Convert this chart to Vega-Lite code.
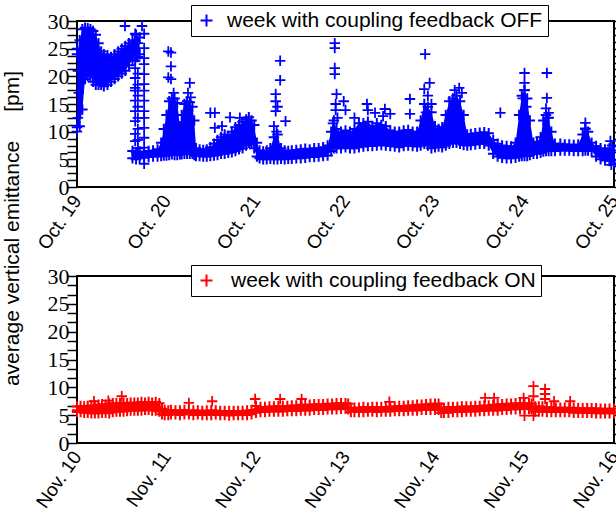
{
  "$schema": "https://vega.github.io/schema/vega-lite/v6.json",
  "padding": {"left": 0, "top": 3, "right": 2, "bottom": 2},
  "background": "white",
  "config": {
    "view": {"stroke": "#000", "strokeWidth": 2},
    "axis": {"domain": false, "grid": false, "labelColor": "#000", "labelFlush": false, "labelOverlap": false, "tickColor": "#000", "tickWidth": 1.5, "titleColor": "#000"},
    "axisX": {"ticks": false, "labelAngle": -55, "labelAlign": "right", "labelBaseline": "middle", "labelPadding": 10, "labelFont": "Liberation Sans", "labelFontSize": 19, "labelBound": false}
  },
  "datasets": {
    "offBand": [
      {"seg":"A","d":0.00,"lo":10.8,"hi":24.0},{"seg":"A","d":0.03,"lo":11.0,"hi":26.5},{"seg":"A","d":0.06,"lo":14.0,"hi":28.5},{"seg":"A","d":0.09,"lo":19.5,"hi":28.8},{"seg":"A","d":0.12,"lo":20.0,"hi":28.7},{"seg":"A","d":0.15,"lo":20.0,"hi":28.5},{"seg":"A","d":0.18,"lo":19.0,"hi":28.2},{"seg":"A","d":0.21,"lo":18.5,"hi":27.5},{"seg":"A","d":0.24,"lo":18.5,"hi":26.0},{"seg":"A","d":0.27,"lo":18.5,"hi":24.5},{"seg":"A","d":0.30,"lo":18.2,"hi":24.0},{"seg":"A","d":0.34,"lo":18.5,"hi":23.8},{"seg":"A","d":0.38,"lo":19.0,"hi":23.5},{"seg":"A","d":0.42,"lo":19.5,"hi":24.0},{"seg":"A","d":0.46,"lo":20.0,"hi":24.5},{"seg":"A","d":0.50,"lo":20.5,"hi":25.0},{"seg":"A","d":0.54,"lo":21.0,"hi":25.5},{"seg":"A","d":0.58,"lo":22.0,"hi":26.0},{"seg":"A","d":0.62,"lo":23.0,"hi":26.5},{"seg":"A","d":0.66,"lo":23.5,"hi":27.5},{"seg":"A","d":0.70,"lo":24.0,"hi":27.0},
      {"seg":"B","d":0.62,"lo":5.2,"hi":6.5},{"seg":"B","d":0.66,"lo":5.0,"hi":6.3},{"seg":"B","d":0.70,"lo":5.2,"hi":6.4},{"seg":"B","d":0.75,"lo":5.3,"hi":6.3},{"seg":"B","d":0.80,"lo":5.4,"hi":6.5},{"seg":"B","d":0.85,"lo":5.5,"hi":6.6},{"seg":"B","d":0.90,"lo":5.5,"hi":6.8},{"seg":"B","d":0.94,"lo":5.6,"hi":8.0},{"seg":"B","d":0.97,"lo":5.7,"hi":10.5},{"seg":"B","d":1.00,"lo":5.7,"hi":13.0},{"seg":"B","d":1.03,"lo":5.8,"hi":15.5},{"seg":"B","d":1.06,"lo":5.9,"hi":16.0},{"seg":"B","d":1.09,"lo":5.8,"hi":16.0},{"seg":"B","d":1.12,"lo":5.8,"hi":15.2},{"seg":"B","d":1.15,"lo":5.9,"hi":11.0},{"seg":"B","d":1.17,"lo":5.9,"hi":13.0},{"seg":"B","d":1.20,"lo":6.0,"hi":15.0},{"seg":"B","d":1.23,"lo":6.0,"hi":15.5},{"seg":"B","d":1.26,"lo":6.0,"hi":15.3},{"seg":"B","d":1.29,"lo":6.0,"hi":14.5},{"seg":"B","d":1.31,"lo":5.8,"hi":12.0},{"seg":"B","d":1.33,"lo":5.6,"hi":7.0},{"seg":"B","d":1.37,"lo":5.6,"hi":6.8},{"seg":"B","d":1.41,"lo":5.5,"hi":6.7},{"seg":"B","d":1.45,"lo":5.5,"hi":6.8},{"seg":"B","d":1.49,"lo":5.6,"hi":7.2},{"seg":"B","d":1.53,"lo":5.7,"hi":7.8},{"seg":"B","d":1.57,"lo":5.8,"hi":8.5},{"seg":"B","d":1.61,"lo":6.0,"hi":9.0},{"seg":"B","d":1.65,"lo":6.0,"hi":9.5},{"seg":"B","d":1.69,"lo":6.2,"hi":9.2},{"seg":"B","d":1.73,"lo":6.3,"hi":10.0},{"seg":"B","d":1.77,"lo":6.5,"hi":10.8},{"seg":"B","d":1.81,"lo":6.8,"hi":11.2},{"seg":"B","d":1.85,"lo":7.0,"hi":11.8},{"seg":"B","d":1.89,"lo":7.5,"hi":12.2},{"seg":"B","d":1.92,"lo":8.0,"hi":12.6},{"seg":"B","d":1.95,"lo":7.8,"hi":12.0},{"seg":"B","d":1.98,"lo":7.0,"hi":11.2},{"seg":"B","d":2.01,"lo":5.5,"hi":8.0},{"seg":"B","d":2.04,"lo":5.2,"hi":6.6},{"seg":"B","d":2.08,"lo":5.0,"hi":6.4},{"seg":"B","d":2.12,"lo":5.0,"hi":6.6},{"seg":"B","d":2.16,"lo":5.1,"hi":7.0},{"seg":"B","d":2.20,"lo":5.0,"hi":9.0},{"seg":"B","d":2.24,"lo":5.0,"hi":9.5},{"seg":"B","d":2.28,"lo":5.1,"hi":7.0},{"seg":"B","d":2.32,"lo":5.0,"hi":6.6},{"seg":"B","d":2.36,"lo":5.1,"hi":6.5},{"seg":"B","d":2.40,"lo":5.1,"hi":6.6},{"seg":"B","d":2.45,"lo":5.2,"hi":6.7},{"seg":"B","d":2.50,"lo":5.2,"hi":6.8},{"seg":"B","d":2.55,"lo":5.3,"hi":6.9},{"seg":"B","d":2.60,"lo":5.4,"hi":6.8},{"seg":"B","d":2.65,"lo":5.4,"hi":7.0},{"seg":"B","d":2.70,"lo":5.5,"hi":7.0},{"seg":"B","d":2.75,"lo":5.6,"hi":7.2},{"seg":"B","d":2.80,"lo":5.7,"hi":7.5},{"seg":"B","d":2.84,"lo":6.5,"hi":10.0},{"seg":"B","d":2.87,"lo":7.0,"hi":12.0},{"seg":"B","d":2.90,"lo":7.0,"hi":10.5},{"seg":"B","d":2.95,"lo":7.0,"hi":10.0},{"seg":"B","d":3.00,"lo":7.2,"hi":10.2},{"seg":"B","d":3.05,"lo":7.0,"hi":10.0},{"seg":"B","d":3.10,"lo":7.0,"hi":10.5},{"seg":"B","d":3.15,"lo":7.2,"hi":11.5},{"seg":"B","d":3.20,"lo":7.3,"hi":11.5},{"seg":"B","d":3.25,"lo":7.4,"hi":11.8},{"seg":"B","d":3.30,"lo":7.4,"hi":11.0},{"seg":"B","d":3.35,"lo":7.5,"hi":11.5},{"seg":"B","d":3.40,"lo":7.6,"hi":11.2},{"seg":"B","d":3.45,"lo":7.5,"hi":11.0},{"seg":"B","d":3.50,"lo":7.4,"hi":10.2},{"seg":"B","d":3.55,"lo":7.3,"hi":10.0},{"seg":"B","d":3.60,"lo":7.2,"hi":10.0},{"seg":"B","d":3.65,"lo":7.4,"hi":10.2},{"seg":"B","d":3.70,"lo":7.5,"hi":10.3},{"seg":"B","d":3.75,"lo":7.4,"hi":10.0},{"seg":"B","d":3.80,"lo":7.3,"hi":10.0},{"seg":"B","d":3.84,"lo":7.5,"hi":12.0},{"seg":"B","d":3.88,"lo":7.8,"hi":15.0},{"seg":"B","d":3.92,"lo":7.5,"hi":14.5},{"seg":"B","d":3.96,"lo":7.0,"hi":13.5},{"seg":"B","d":4.00,"lo":7.2,"hi":11.0},{"seg":"B","d":4.04,"lo":7.3,"hi":10.5},{"seg":"B","d":4.08,"lo":7.2,"hi":10.8},{"seg":"B","d":4.12,"lo":7.5,"hi":13.0},{"seg":"B","d":4.16,"lo":7.8,"hi":15.5},{"seg":"B","d":4.20,"lo":8.0,"hi":16.0},{"seg":"B","d":4.24,"lo":8.0,"hi":16.5},{"seg":"B","d":4.28,"lo":7.8,"hi":15.5},{"seg":"B","d":4.32,"lo":7.6,"hi":13.0},{"seg":"B","d":4.36,"lo":7.5,"hi":9.5},{"seg":"B","d":4.40,"lo":7.6,"hi":9.6},{"seg":"B","d":4.45,"lo":7.7,"hi":9.7},{"seg":"B","d":4.50,"lo":7.8,"hi":9.8},{"seg":"B","d":4.55,"lo":7.8,"hi":9.9},{"seg":"B","d":4.60,"lo":7.5,"hi":9.7},{"seg":"B","d":4.65,"lo":6.0,"hi":8.5},{"seg":"B","d":4.70,"lo":5.5,"hi":7.8},{"seg":"B","d":4.75,"lo":5.3,"hi":7.5},{"seg":"B","d":4.80,"lo":5.2,"hi":7.4},{"seg":"B","d":4.85,"lo":5.2,"hi":7.3},{"seg":"B","d":4.90,"lo":5.3,"hi":8.0},{"seg":"B","d":4.94,"lo":5.5,"hi":13.0},{"seg":"B","d":4.97,"lo":5.6,"hi":16.5},{"seg":"B","d":5.00,"lo":5.6,"hi":17.5},{"seg":"B","d":5.03,"lo":5.6,"hi":16.0},{"seg":"B","d":5.06,"lo":5.8,"hi":12.0},{"seg":"B","d":5.10,"lo":6.0,"hi":8.0},{"seg":"B","d":5.14,"lo":6.0,"hi":8.2},{"seg":"B","d":5.18,"lo":6.2,"hi":9.0},{"seg":"B","d":5.21,"lo":6.4,"hi":12.0},{"seg":"B","d":5.24,"lo":6.5,"hi":13.0},{"seg":"B","d":5.27,"lo":6.5,"hi":12.5},{"seg":"B","d":5.30,"lo":6.5,"hi":10.0},{"seg":"B","d":5.34,"lo":6.5,"hi":7.8},{"seg":"B","d":5.40,"lo":6.6,"hi":7.8},{"seg":"B","d":5.45,"lo":6.6,"hi":7.7},{"seg":"B","d":5.50,"lo":6.6,"hi":7.7},{"seg":"B","d":5.55,"lo":6.5,"hi":7.6},{"seg":"B","d":5.60,"lo":6.5,"hi":7.7},{"seg":"B","d":5.65,"lo":6.5,"hi":9.5},{"seg":"B","d":5.68,"lo":6.6,"hi":10.5},{"seg":"B","d":5.71,"lo":6.6,"hi":10.0},{"seg":"B","d":5.75,"lo":6.5,"hi":8.0},{"seg":"B","d":5.80,"lo":5.5,"hi":7.4},{"seg":"B","d":5.85,"lo":5.0,"hi":7.0},{"seg":"B","d":5.90,"lo":4.8,"hi":6.8},{"seg":"B","d":5.95,"lo":4.7,"hi":7.0},{"seg":"B","d":6.00,"lo":4.8,"hi":6.6}
    ],
    "offPts": [
      {"d":0.0,"v":25.0},{"d":0.0,"v":10.0},{"d":0.01,"v":12.5},{"d":0.02,"v":17.0},{"d":0.01,"v":21.0},
      {"d":0.536,"v":29.1},{"d":0.726,"v":29.1},
      {"d":0.65,"v":27.7},{"d":0.65,"v":26.4},{"d":0.65,"v":24.6},{"d":0.65,"v":22.8},{"d":0.65,"v":21.5},{"d":0.65,"v":19.7},{"d":0.65,"v":17.9},{"d":0.65,"v":17.4},{"d":0.65,"v":15.6},{"d":0.65,"v":13.7},{"d":0.65,"v":11.9},{"d":0.65,"v":9.6},{"d":0.65,"v":8.3},
      {"d":0.68,"v":26.0},{"d":0.68,"v":23.5},{"d":0.68,"v":20.5},{"d":0.68,"v":18.5},{"d":0.68,"v":16.5},{"d":0.68,"v":14.5},{"d":0.68,"v":12.5},{"d":0.68,"v":10.5},{"d":0.68,"v":8.5},{"d":0.68,"v":7.0},
      {"d":0.75,"v":27.7},{"d":0.75,"v":25.1},{"d":0.75,"v":23.3},{"d":0.75,"v":22.2},{"d":0.75,"v":20.4},{"d":0.75,"v":18.6},{"d":0.75,"v":17.4},{"d":0.75,"v":15.6},{"d":0.75,"v":13.7},{"d":0.75,"v":12.5},{"d":0.75,"v":10.7},{"d":0.75,"v":8.9},{"d":0.75,"v":7.1},{"d":0.75,"v":4.2},
      {"d":1.02,"v":24.5},{"d":1.05,"v":24.3},{"d":1.05,"v":21.8},{"d":1.02,"v":19.8},{"d":1.05,"v":19.5},{"d":1.08,"v":17.0},
      {"d":1.26,"v":18.8},{"d":1.24,"v":17.0},{"d":1.27,"v":16.2},
      {"d":1.49,"v":13.4},{"d":1.54,"v":13.4},{"d":1.54,"v":10.7},
      {"d":1.71,"v":12.6},{"d":1.82,"v":12.5},{"d":1.62,"v":11.0},
      {"d":2.27,"v":22.8},{"d":2.27,"v":19.3},{"d":2.22,"v":16.8},{"d":2.22,"v":15.5},{"d":2.24,"v":14.5},{"d":2.22,"v":13.7},{"d":2.33,"v":11.9},{"d":2.20,"v":11.0},{"d":2.23,"v":10.0},
      {"d":2.88,"v":26.0},{"d":2.88,"v":25.1},{"d":2.88,"v":21.5},{"d":2.88,"v":20.4},{"d":2.90,"v":16.8},{"d":2.89,"v":15.0},{"d":2.89,"v":13.9},{"d":2.91,"v":12.5},{"d":2.86,"v":11.5},
      {"d":2.98,"v":15.5},{"d":3.0,"v":13.9},{"d":3.10,"v":12.5},
      {"d":3.24,"v":15.0},{"d":3.25,"v":13.9},{"d":3.33,"v":13.4},{"d":3.44,"v":14.1},{"d":3.42,"v":12.8},{"d":3.50,"v":13.2},
      {"d":3.72,"v":15.9},{"d":3.72,"v":13.2},
      {"d":3.89,"v":24.0},{"d":3.94,"v":18.8},{"d":3.88,"v":17.7},{"d":3.92,"v":16.5},{"d":3.96,"v":15.0},{"d":3.90,"v":13.5},
      {"d":4.22,"v":17.5},{"d":4.27,"v":17.9},{"d":4.30,"v":17.0},
      {"d":4.73,"v":13.4},
      {"d":5.0,"v":20.6},{"d":5.0,"v":18.8},{"d":5.0,"v":17.5},{"d":4.98,"v":16.0},{"d":5.02,"v":14.5},
      {"d":5.25,"v":20.6},{"d":5.25,"v":16.1},{"d":5.27,"v":13.4},{"d":5.26,"v":12.5},{"d":5.24,"v":14.2},
      {"d":5.68,"v":11.6},{"d":5.68,"v":10.6},
      {"d":5.96,"v":8.3},{"d":5.98,"v":7.5},{"d":5.97,"v":4.0},{"d":6.0,"v":4.3}
    ],
    "onBand": [
      {"d":0.00,"lo":5.55,"hi":6.55},{"d":0.04,"lo":5.55,"hi":6.65},{"d":0.08,"lo":5.45,"hi":6.55},{"d":0.12,"lo":5.45,"hi":6.65},{"d":0.16,"lo":5.35,"hi":6.75},{"d":0.20,"lo":5.35,"hi":6.75},{"d":0.24,"lo":5.35,"hi":6.85},{"d":0.28,"lo":5.45,"hi":6.95},{"d":0.32,"lo":5.45,"hi":6.85},{"d":0.36,"lo":5.35,"hi":7.05},{"d":0.40,"lo":5.55,"hi":7.15},{"d":0.44,"lo":5.65,"hi":7.15},{"d":0.48,"lo":5.65,"hi":7.15},{"d":0.52,"lo":5.65,"hi":7.25},{"d":0.56,"lo":5.75,"hi":7.15},{"d":0.60,"lo":5.85,"hi":7.25},{"d":0.64,"lo":5.85,"hi":7.25},{"d":0.68,"lo":5.85,"hi":7.25},{"d":0.72,"lo":5.85,"hi":7.35},{"d":0.76,"lo":5.95,"hi":7.25},{"d":0.80,"lo":5.95,"hi":7.35},{"d":0.84,"lo":5.85,"hi":7.25},{"d":0.88,"lo":5.85,"hi":7.35},{"d":0.92,"lo":5.65,"hi":7.15},{"d":0.95,"lo":5.15,"hi":6.15},{"d":0.98,"lo":5.05,"hi":5.95},{"d":1.02,"lo":5.05,"hi":5.85},
      {"d":1.05,"lo":5.15,"hi":5.95},{"d":1.10,"lo":5.15,"hi":5.85},{"d":1.15,"lo":5.05,"hi":5.85},{"d":1.20,"lo":5.15,"hi":5.95},{"d":1.25,"lo":5.15,"hi":5.85},{"d":1.30,"lo":5.05,"hi":5.85},{"d":1.35,"lo":5.15,"hi":5.85},{"d":1.40,"lo":5.05,"hi":5.75},{"d":1.45,"lo":5.05,"hi":5.85},{"d":1.50,"lo":5.05,"hi":5.85},{"d":1.55,"lo":5.15,"hi":5.85},{"d":1.60,"lo":5.05,"hi":5.75},{"d":1.65,"lo":5.05,"hi":5.75},{"d":1.70,"lo":4.95,"hi":5.75},{"d":1.75,"lo":5.05,"hi":5.75},{"d":1.80,"lo":5.05,"hi":5.75},{"d":1.85,"lo":5.05,"hi":5.75},{"d":1.90,"lo":5.05,"hi":5.85},{"d":1.95,"lo":5.15,"hi":5.95},
      {"d":2.00,"lo":5.45,"hi":6.65},{"d":2.05,"lo":5.55,"hi":6.45},{"d":2.10,"lo":5.55,"hi":6.45},{"d":2.15,"lo":5.65,"hi":6.55},{"d":2.20,"lo":5.65,"hi":6.55},{"d":2.25,"lo":5.65,"hi":6.65},{"d":2.30,"lo":5.65,"hi":6.65},{"d":2.35,"lo":5.75,"hi":6.65},{"d":2.40,"lo":5.75,"hi":6.75},{"d":2.45,"lo":5.75,"hi":6.75},{"d":2.50,"lo":5.85,"hi":6.85},{"d":2.55,"lo":5.85,"hi":6.85},{"d":2.60,"lo":5.85,"hi":6.85},{"d":2.65,"lo":5.95,"hi":6.95},{"d":2.70,"lo":5.95,"hi":6.95},{"d":2.75,"lo":5.95,"hi":6.95},{"d":2.80,"lo":6.05,"hi":7.05},{"d":2.85,"lo":6.05,"hi":7.05},{"d":2.90,"lo":6.05,"hi":7.15},{"d":2.95,"lo":6.15,"hi":7.15},{"d":3.00,"lo":6.15,"hi":7.15},{"d":3.03,"lo":6.05,"hi":7.05},
      {"d":3.06,"lo":5.55,"hi":6.35},{"d":3.10,"lo":5.55,"hi":6.35},{"d":3.15,"lo":5.55,"hi":6.35},{"d":3.20,"lo":5.55,"hi":6.45},{"d":3.25,"lo":5.65,"hi":6.35},{"d":3.30,"lo":5.65,"hi":6.45},{"d":3.35,"lo":5.55,"hi":6.45},{"d":3.40,"lo":5.65,"hi":6.45},{"d":3.45,"lo":5.65,"hi":6.45},{"d":3.50,"lo":5.65,"hi":6.55},{"d":3.55,"lo":5.75,"hi":6.55},{"d":3.60,"lo":5.75,"hi":6.65},{"d":3.65,"lo":5.75,"hi":6.65},{"d":3.70,"lo":5.85,"hi":6.75},{"d":3.75,"lo":5.85,"hi":6.75},{"d":3.80,"lo":5.85,"hi":6.85},{"d":3.85,"lo":5.95,"hi":6.85},{"d":3.90,"lo":5.95,"hi":6.95},{"d":3.95,"lo":5.95,"hi":7.05},{"d":4.00,"lo":5.95,"hi":7.05},{"d":4.04,"lo":5.95,"hi":7.05},
      {"d":4.07,"lo":5.45,"hi":6.35},{"d":4.10,"lo":5.45,"hi":6.35},{"d":4.15,"lo":5.45,"hi":6.45},{"d":4.20,"lo":5.55,"hi":6.45},{"d":4.25,"lo":5.55,"hi":6.45},{"d":4.30,"lo":5.55,"hi":6.55},{"d":4.35,"lo":5.65,"hi":6.55},{"d":4.40,"lo":5.65,"hi":6.55},{"d":4.45,"lo":5.65,"hi":6.65},{"d":4.50,"lo":5.75,"hi":6.65},{"d":4.55,"lo":5.75,"hi":6.75},{"d":4.60,"lo":5.85,"hi":6.75},{"d":4.65,"lo":5.85,"hi":6.85},{"d":4.70,"lo":5.85,"hi":6.95},{"d":4.75,"lo":5.95,"hi":6.95},{"d":4.80,"lo":5.95,"hi":7.05},{"d":4.85,"lo":6.05,"hi":7.05},{"d":4.90,"lo":6.05,"hi":7.15},{"d":4.95,"lo":6.05,"hi":7.15},{"d":5.00,"lo":6.15,"hi":7.15},{"d":5.05,"lo":6.15,"hi":7.15},{"d":5.08,"lo":6.05,"hi":7.05},
      {"d":5.12,"lo":5.65,"hi":6.55},{"d":5.16,"lo":5.65,"hi":6.55},{"d":5.20,"lo":5.65,"hi":6.55},{"d":5.25,"lo":5.55,"hi":6.45},{"d":5.30,"lo":5.55,"hi":6.45},{"d":5.35,"lo":5.55,"hi":6.35},{"d":5.40,"lo":5.55,"hi":6.35},{"d":5.45,"lo":5.55,"hi":6.35},{"d":5.50,"lo":5.55,"hi":6.35},{"d":5.55,"lo":5.45,"hi":6.35},{"d":5.60,"lo":5.45,"hi":6.25},{"d":5.65,"lo":5.45,"hi":6.25},{"d":5.70,"lo":5.45,"hi":6.25},{"d":5.75,"lo":5.45,"hi":6.25},{"d":5.80,"lo":5.35,"hi":6.25},{"d":5.85,"lo":5.35,"hi":6.15},{"d":5.90,"lo":5.35,"hi":6.15},{"d":5.95,"lo":5.35,"hi":6.15},{"d":6.00,"lo":5.35,"hi":6.15}
    ],
    "onPts": [
      {"d":0.0,"v":5.9},{"d":0.19,"v":7.5},{"d":0.35,"v":7.6},{"d":0.50,"v":8.4},{"d":1.25,"v":7.2},{"d":1.51,"v":7.5},{"d":1.99,"v":7.9},{"d":2.27,"v":7.9},{"d":2.51,"v":7.9},{"d":3.49,"v":7.4},{"d":4.56,"v":8.1},{"d":4.66,"v":8.1},{"d":4.99,"v":8.1},{"d":5.10,"v":10.2},{"d":5.10,"v":8.4},{"d":5.23,"v":9.7},{"d":5.23,"v":8.8},{"d":5.23,"v":7.9},{"d":5.33,"v":7.5},{"d":5.51,"v":7.5},{"d":5.0,"v":4.9},{"d":5.1,"v":4.9},{"d":6.0,"v":5.7}
    ]
  },
  "spacing": 89,
  "bounds": "flush",
  "resolve": {"scale": {"color": "independent"}, "legend": {"color": "independent"}},
  "vconcat": [
    {
      "width": 537,
      "height": 166,
      "resolve": {"axis": {"y": "independent"}},
      "layer": [
        {
          "data": {"name": "offBand"},
          "mark": {"type": "area", "color": "#0000ff", "opacity": 1},
          "encoding": {
            "x": {"field": "d", "type": "quantitative", "scale": {"domain": [0, 6], "nice": false, "zero": false}, "axis": {"values": [0,1,2,3,4,5,6], "labelExpr": "'Oct. ' + (19 + datum.value)", "title": null}},
            "y": {"field": "lo", "type": "quantitative", "scale": {"domain": [0, 30], "nice": false},
              "axis": {"orient": "left", "values": [0,1.25,2.5,3.75,5,6.25,7.5,8.75,10,11.25,12.5,13.75,15,16.25,17.5,18.75,20,21.25,22.5,23.75,25,26.25,27.5,28.75,30],
                "labelExpr": "datum.value % 5 === 0 ? datum.label : ''",
                "labelFont": "Liberation Serif", "labelFontSize": 22, "labelColor": "#000",
                "ticks": true, "tickSize": 10, "labelPadding": -2, "tickColor": "#000", "tickWidth": 1.5,
                "encode": {"ticks": {"update": {"x2": {"signal": "datum.value % 5 === 0 ? 10 : 5"}}}},
                "title": "average vertical emittance\u00a0\u00a0\u00a0\u00a0\u00a0[pm]", "titleFont": "Liberation Sans", "titleFontSize": 21, "titleFontWeight": "normal", "titleX": -55, "titleY": 207}},
            "y2": {"field": "hi"},
            "detail": {"field": "seg"}
          }
        },
        {
          "data": {"name": "offBand"},
          "mark": {"type": "point", "shape": "M-1,0L1,0M0,-1L0,1", "filled": false, "size": 110, "strokeWidth": 2, "color": "#0000ff", "opacity": 1},
          "encoding": {
            "x": {"field": "d", "type": "quantitative", "axis": {"values": [0,1,2,3,4,5,6], "labelExpr": "'Oct. ' + (19 + datum.value)", "title": null}},
            "y": {"field": "lo", "type": "quantitative", "axis": null}
          }
        },
        {
          "data": {"name": "offBand"},
          "mark": {"type": "point", "shape": "M-1,0L1,0M0,-1L0,1", "filled": false, "size": 110, "strokeWidth": 2, "color": "#0000ff", "opacity": 1},
          "encoding": {
            "x": {"field": "d", "type": "quantitative", "axis": {"values": [0,1,2,3,4,5,6], "labelExpr": "'Oct. ' + (19 + datum.value)", "title": null}},
            "y": {"field": "hi", "type": "quantitative", "axis": null}
          }
        },
        {
          "data": {"name": "offPts"},
          "mark": {"type": "point", "shape": "M-1,0L1,0M0,-1L0,1", "filled": false, "size": 110, "strokeWidth": 1.8, "opacity": 1},
          "encoding": {
            "x": {"field": "d", "type": "quantitative", "axis": {"values": [0,1,2,3,4,5,6], "labelExpr": "'Oct. ' + (19 + datum.value)", "title": null}},
            "y": {"field": "v", "type": "quantitative",
              "axis": {"orient": "right", "values": [0,1.25,2.5,3.75,5,6.25,7.5,8.75,10,11.25,12.5,13.75,15,16.25,17.5,18.75,20,21.25,22.5,23.75,25,26.25,27.5,28.75,30],
                "labels": false, "title": null, "ticks": true, "tickSize": 10, "tickColor": "#000", "tickWidth": 1.5,
                "encode": {"ticks": {"update": {"x2": {"signal": "datum.value % 5 === 0 ? -10 : -5"}}}}}},
            "color": {"datum": "week with coupling feedback OFF", "scale": {"range": ["#0000ff"]},
              "legend": {"orient": "none", "legendX": 114, "legendY": -16, "title": null, "padding": 5, "labelFont": "Liberation Sans", "labelFontSize": 21, "labelColor": "#000", "labelOffset": 10, "labelLimit": 500, "symbolType": "M-1,0L1,0M0,-1L0,1", "symbolSize": 144, "symbolStrokeWidth": 2, "symbolFillColor": "transparent", "symbolStrokeColor": "#0000ff", "fillColor": "#ffffff", "strokeColor": "#000000",
                "encode": {"legend": {"update": {"strokeWidth": {"value": 1.5}}}}}}
          }
        }
      ]
    },
    {
      "width": 537,
      "height": 167,
      "resolve": {"axis": {"y": "independent"}},
      "layer": [
        {
          "data": {"name": "onBand"},
          "mark": {"type": "area", "color": "#ff0000", "opacity": 1},
          "encoding": {
            "x": {"field": "d", "type": "quantitative", "scale": {"domain": [0, 6], "nice": false, "zero": false}, "axis": {"values": [0,1,2,3,4,5,6], "labelExpr": "'Nov. ' + (10 + datum.value)", "title": null}},
            "y": {"field": "lo", "type": "quantitative", "scale": {"domain": [0, 30], "nice": false},
              "axis": {"orient": "left", "values": [0,1.6667,3.3333,5,6.6667,8.3333,10,11.6667,13.3333,15,16.6667,18.3333,20,21.6667,23.3333,25,26.6667,28.3333,30],
                "labelExpr": "datum.value % 5 === 0 ? datum.label : ''",
                "labelFont": "Liberation Serif", "labelFontSize": 22, "labelColor": "#000",
                "ticks": true, "tickSize": 10, "labelPadding": -2, "tickColor": "#000", "tickWidth": 1.5,
                "encode": {"ticks": {"update": {"x2": {"signal": "datum.value % 5 === 0 ? 10 : 5"}}}},
                "title": null}},
            "y2": {"field": "hi"}
          }
        },
        {
          "data": {"name": "onBand"},
          "mark": {"type": "point", "shape": "M-1,0L1,0M0,-1L0,1", "filled": false, "size": 110, "strokeWidth": 2, "color": "#ff0000", "opacity": 1},
          "encoding": {
            "x": {"field": "d", "type": "quantitative", "axis": {"values": [0,1,2,3,4,5,6], "labelExpr": "'Nov. ' + (10 + datum.value)", "title": null}},
            "y": {"field": "lo", "type": "quantitative", "axis": null}
          }
        },
        {
          "data": {"name": "onBand"},
          "mark": {"type": "point", "shape": "M-1,0L1,0M0,-1L0,1", "filled": false, "size": 110, "strokeWidth": 2, "color": "#ff0000", "opacity": 1},
          "encoding": {
            "x": {"field": "d", "type": "quantitative", "axis": {"values": [0,1,2,3,4,5,6], "labelExpr": "'Nov. ' + (10 + datum.value)", "title": null}},
            "y": {"field": "hi", "type": "quantitative", "axis": null}
          }
        },
        {
          "data": {"name": "onPts"},
          "mark": {"type": "point", "shape": "M-1,0L1,0M0,-1L0,1", "filled": false, "size": 110, "strokeWidth": 1.8, "opacity": 1},
          "encoding": {
            "x": {"field": "d", "type": "quantitative", "axis": {"values": [0,1,2,3,4,5,6], "labelExpr": "'Nov. ' + (10 + datum.value)", "title": null}},
            "y": {"field": "v", "type": "quantitative",
              "axis": {"orient": "right", "values": [0,1.6667,3.3333,5,6.6667,8.3333,10,11.6667,13.3333,15,16.6667,18.3333,20,21.6667,23.3333,25,26.6667,28.3333,30],
                "labels": false, "title": null, "ticks": true, "tickSize": 10, "tickColor": "#000", "tickWidth": 1.5,
                "encode": {"ticks": {"update": {"x2": {"signal": "datum.value % 5 === 0 ? -10 : -5"}}}}}},
            "color": {"datum": "week with coupling feedback ON", "scale": {"range": ["#ff0000"]},
              "legend": {"orient": "none", "legendX": 114, "legendY": -11, "title": null, "padding": 5, "labelFont": "Liberation Sans", "labelFontSize": 21, "labelColor": "#000", "labelOffset": 14, "labelLimit": 500, "symbolType": "M-1,0L1,0M0,-1L0,1", "symbolSize": 144, "symbolStrokeWidth": 2, "symbolFillColor": "transparent", "symbolStrokeColor": "#ff0000", "fillColor": "#ffffff", "strokeColor": "#000000",
                "encode": {"legend": {"update": {"strokeWidth": {"value": 1.5}}}}}}
          }
        }
      ]
    }
  ]
}
